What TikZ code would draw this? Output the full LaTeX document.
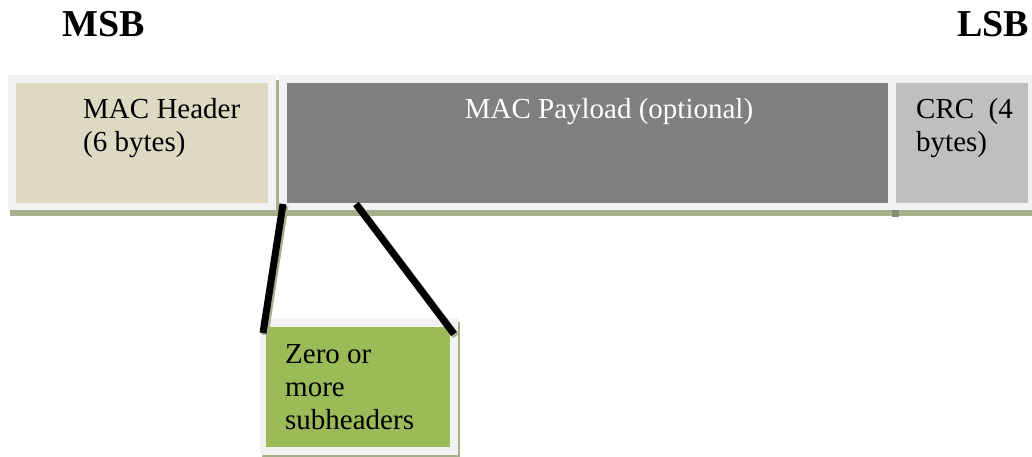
\documentclass[tikz,border=0pt]{standalone}
\usepackage{fontspec}
\setmainfont{Liberation Serif}
\usetikzlibrary{positioning}

\definecolor{framegray}{HTML}{F2F2F2}
\definecolor{headertan}{HTML}{DDD9C3}
\definecolor{payloadgray}{HTML}{808080}
\definecolor{crcgray}{HTML}{BFBFBF}
\definecolor{subgreen}{HTML}{9BBB59}
\definecolor{shadowgreen}{HTML}{A6B08F}

\tikzset{
  field/.style={draw=none, inner sep=0pt, anchor=north west},
  lbl/.style={inner sep=0pt, anchor=base west, font=\fontsize{29}{32}\selectfont},
  bitlbl/.style={inner sep=0pt, anchor=base west, font=\fontsize{38}{42}\selectfont\bfseries},
  tie/.style={line width=7pt, black},
  tieshadow/.style={line width=7pt, shadowgreen}
}

\begin{document}
\begin{tikzpicture}[x=1pt,y=-1pt]
    \useasboundingbox (0,0) rectangle (1032,457);

    % Bitreihenfolge
    \node[bitlbl] (msb) at (62,37) {MSB};
    \node[bitlbl] (lsb) at (957,37) {LSB};

    % Schatten
    \fill[shadowgreen] (10,209) rectangle (1032,216);
    \fill[shadowgreen] (276,80) rectangle (279,216);
    \fill[shadowgreen!80!black] (892,210) rectangle (899,217);

    % Rahmen
    \fill[framegray] (8,75) rectangle (276,210);
    \fill[framegray] (279,75) rectangle (892,210);
    \fill[framegray] (888,75) rectangle (1032,210);

    % Felder
    \node[field, fill=headertan, minimum width=252, minimum height=120] (header) at (16,83) {};
    \node[field, fill=payloadgray, minimum width=601, minimum height=120] (payload) at (287,83) {};
    \node[field, fill=crcgray, minimum width=132, minimum height=120] (crc) at (896,83) {};

    % Texte
    \node[lbl] (header1) at (83,119) {MAC Header};
    \node[lbl] (header2) at (83,152) {(6 bytes)};
    \node[lbl, anchor=base, white] (payload1) at (609,119) {MAC Payload (optional)};
    \node[lbl] (crc1) at (916,119) {CRC~ (4};
    \node[lbl] (crc2) at (916,152) {bytes)};

    % Subheader
    \fill[shadowgreen] (262,322) rectangle (460,457);
    \fill[framegray] (260,318) rectangle (458,455);
    \node[field, fill=subgreen, minimum width=184, minimum height=120] (sub) at (266,327) {};
    \node[lbl] (sub1) at (285,363) {Zero or};
    \node[lbl] (sub2) at (285,396) {more};
    \node[lbl] (sub3) at (285,429) {subheaders};

    % Verbinder
    \coordinate (tieL) at (283,204);
    \coordinate (tieR) at (356,204);
    \coordinate (subL) at (263,333);
    \coordinate (subR) at (454,334);
    \draw[tieshadow] ([shift={(2,2)}]tieL) -- ([shift={(2,2)}]subL);
    \draw[tieshadow] ([shift={(2,2)}]tieR) -- ([shift={(2,2)}]subR);
    \draw[tie] (tieL) -- (subL);
    \draw[tie] (tieR) -- (subR);
\end{tikzpicture}
\end{document}
